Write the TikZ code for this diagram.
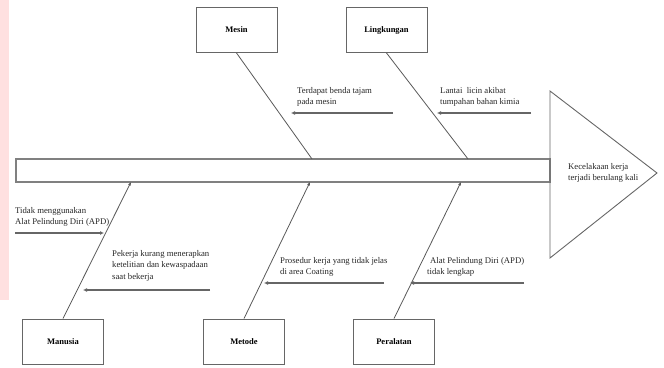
\documentclass[tikz,border=0pt]{standalone}
\usepackage{fontspec}
\setmainfont{Liberation Serif}
\usetikzlibrary{arrows.meta}
\begin{document}
\begin{tikzpicture}[x=1pt,y=-1pt,
  catbox/.style={draw=black!60,line width=0.9pt,minimum width=81pt,minimum height=45pt,inner sep=0pt,font=\fontsize{8.5}{10}\selectfont\bfseries},
  bone/.style={draw=black!65,line width=0.8pt},
  bonearrow/.style={bone,-{Latex[length=3.5pt,width=3pt]}},
  cause/.style={anchor=north west,align=left,inner sep=0pt,font=\fontsize{8.7}{11.5}\selectfont,text=black!85},
  causearrow/.style={draw=black!60,line width=1.3pt,-{Latex[length=4pt,width=4pt]}}
]
\useasboundingbox (0,0) rectangle (664,367);
\fill[red!12] (0,0) rectangle (9,300);
% spine and head
\node[draw=black!50,line width=1.3pt,minimum width=534pt,minimum height=23pt,inner sep=0pt] (spine) at (283,170.5) {};
\coordinate (tt) at (550,91);
\coordinate (ta) at (657,173);
\coordinate (tb) at (550,258);
\draw[draw=black!60,line width=0.9pt] (tt) -- (ta) -- (tb) -- cycle;
\node[cause] (effect) at (568,163) {Kecelakaan kerja\\terjadi berulang kali};
% category boxes
\node[catbox] (mesin) at (236.5,30) {Mesin};
\node[catbox] (lingkungan) at (386.5,30) {Lingkungan};
\node[catbox] (manusia) at (63,341.5) {Manusia};
\node[catbox] (metode) at (244,341.5) {Metode};
\node[catbox] (peralatan) at (394,341.5) {Peralatan};
% bones
\coordinate (bm) at (312,159);
\coordinate (bl) at (468,159);
\coordinate (bh) at (131,182);
\coordinate (bt) at (310,182);
\coordinate (bp) at (461,182);
\draw[bone] (mesin.south) -- (bm);
\draw[bone] (lingkungan.south) -- (bl);
\draw[bonearrow] (manusia.north) -- (bh);
\draw[bonearrow] (metode.north) -- (bt);
\draw[bonearrow] (peralatan.north) -- (bp);
% causes
\node[cause] (c1) at (297,87) {Terdapat benda tajam\\pada mesin};
\coordinate (c1a) at (393,113); \coordinate (c1b) at (291,113);
\draw[causearrow] (c1a) -- (c1b);
\node[cause] (c2) at (440,87) {Lantai\ \ licin akibat\\tumpahan bahan kimia};
\coordinate (c2a) at (531,113); \coordinate (c2b) at (437,113);
\draw[causearrow] (c2a) -- (c2b);
\node[cause] (c3) at (15,207) {Tidak menggunakan\\Alat Pelindung Diri (APD)};
\coordinate (c3a) at (15,233); \coordinate (c3b) at (104,233);
\draw[causearrow] (c3a) -- (c3b);
\node[cause] (c4) at (112,250) {Pekerja kurang menerapkan\\ketelitian dan kewaspadaan\\saat bekerja};
\coordinate (c4a) at (210,290); \coordinate (c4b) at (83,290);
\draw[causearrow] (c4a) -- (c4b);
\node[cause] (c5) at (280,257) {Prosedur kerja yang tidak jelas\\di area Coating};
\coordinate (c5a) at (384,283); \coordinate (c5b) at (264,283);
\draw[causearrow] (c5a) -- (c5b);
\node[cause] (c6) at (427,257) {\hspace{3pt}Alat Pelindung Diri (APD)\\tidak lengkap};
\coordinate (c6a) at (524,283); \coordinate (c6b) at (410,283);
\draw[causearrow] (c6a) -- (c6b);
\end{tikzpicture}
\end{document}
